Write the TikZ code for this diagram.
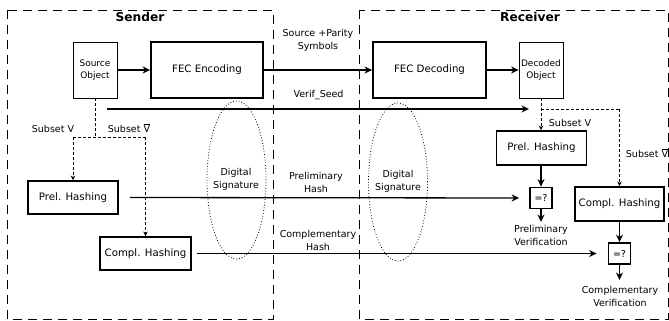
\documentclass[tikz,border=0pt]{standalone}
\usepackage{fontspec}
\setmainfont{DejaVu Sans}
\usetikzlibrary{arrows.meta,shapes.geometric}
\newcommand{\vbar}{$\overline{\mbox{V}}$}
\begin{document}
\begin{tikzpicture}[x=1pt,y=-1pt,
  frame/.style={draw, line width=0.9pt, dash pattern=on 9pt off 6pt},
  thinbox/.style={draw, line width=0.8pt, minimum width=44pt, minimum height=56pt, inner sep=0pt, align=center, font=\fontsize{9}{12.5}\selectfont},
  thickbox/.style={draw, line width=1.8pt, inner sep=0pt, font=\fontsize{10.2}{12}\selectfont},
  eqbox/.style={draw, line width=1.8pt, minimum width=22pt, minimum height=21pt, inner sep=0pt, font=\fontsize{9.5}{12}\selectfont},
  lbl/.style={align=center, inner sep=0pt, font=\fontsize{9.5}{13}\selectfont},
  arr/.style={line width=1.3pt, -{Stealth[length=7.5pt,width=7pt]}},
  sub/.style={line width=0.8pt, dash pattern=on 3pt off 2pt},
  subarr/.style={sub, -{Stealth[length=4.5pt,width=4.5pt]}},
  sig/.style={draw, line width=0.8pt, dotted, ellipse, minimum width=59pt, minimum height=158pt, inner sep=0pt}
]
\useasboundingbox (0,0) rectangle (669,321);
% frames
\draw[frame] (7,10) rectangle (273,319);
\draw[frame] (359,10) rectangle (668,319);
\node[font=\fontsize{12.2}{14}\bfseries\selectfont] (sendert) at (140,17) {Sender};
\node[font=\fontsize{12.2}{14}\bfseries\selectfont] (receivert) at (530,17) {Receiver};
% ellipses
\node[sig] (sigS) at (236.5,180) {};
\node[sig] (sigR) at (398,182) {};
\node[lbl] (sigSt) at (236,179) {Digital\\Signature};
\node[lbl] (sigRt) at (398,181) {Digital\\Signature};
% boxes
\node[thinbox] (src) at (95,70) {Source\\Object};
\node[thickbox, minimum width=112pt, minimum height=56pt] (fecE) at (207,70) {FEC Encoding};
\node[thickbox, minimum width=113pt, minimum height=56pt] (fecD) at (429.5,70) {FEC Decoding};
\node[thinbox] (dec) at (541,70) {Decoded\\Object};
\node[thickbox, minimum width=90pt, minimum height=33pt] (preS) at (73,197.5) {Prel. Hashing};
\node[thickbox, minimum width=91pt, minimum height=33pt] (compS) at (145.5,253.5) {Compl. Hashing};
\node[thickbox, minimum width=90pt, minimum height=34pt] (preR) at (541.5,148) {Prel. Hashing};
\node[thickbox, minimum width=89pt, minimum height=34pt] (compR) at (619.5,204) {Compl. Hashing};
\node[eqbox] (eq1) at (541,198) {=?};
\node[eqbox] (eq2) at (619.5,253.5) {=?};
% main flow
\draw[arr] (src) -- (fecE);
\draw[arr] (fecE) -- (fecD);
\draw[arr] (fecD) -- (dec);
\node[lbl] (spl) at (318,40) {Source +Parity\\Symbols};
% verif seed
\coordinate (vs0) at (107,109);
\coordinate (vs1) at (529,109);
\draw[arr] (vs0) -- (vs1);
\node[lbl] (vsl) at (318.5,95) {Verif\_Seed};
% sender subsets
\coordinate (sj) at (95,137);
\coordinate (sl) at (73,137);
\coordinate (sr) at (145.5,137);
\draw[sub] (src.south) -- (sj);
\draw[sub] (sl) -- (sr);
\draw[subarr] (sl) -- (preS.north);
\draw[subarr] (sr) -- (compS.north);
\node[lbl] (sv1) at (53,129) {Subset V};
\node[lbl] (sv2) at (129,128) {Subset \vbar};
% hashes transmitted
\draw[arr, shorten <=11pt, shorten >=10pt] (preS.east) -- (eq1.west);
\draw[arr, shorten <=5pt, shorten >=11pt] (compS.east) -- (eq2.west);
\node[lbl] (phl) at (316,182.5) {Preliminary\\Hash};
\node[lbl] (chl) at (318,240.5) {Complementary\\Hash};
% receiver subsets
\coordinate (rj) at (541,109);
\coordinate (rr) at (619.5,109);
\draw[subarr] (dec.south) -- (preR.north -| dec.south);
\draw[sub] (rj) -- (rr);
\draw[subarr] (rr) -- (compR.north);
\node[lbl] (rv1) at (570,123) {Subset V};
\node[lbl] (rv2) at (647,153) {Subset \vbar};
% verification
\draw[arr] (preR.south -| eq1.north) -- (eq1.north);
\coordinate (pv) at (541,222);
\draw[arr] (eq1.south) -- (pv);
\node[lbl] (pvl) at (541,235.5) {Preliminary\\Verification};
\draw[arr] (compR.south) -- (eq2.north);
\coordinate (cv) at (619.5,280);
\draw[arr] (eq2.south) -- (cv);
\node[lbl] (cvl) at (620,296.5) {Complementary\\Verification};
\end{tikzpicture}
\end{document}
